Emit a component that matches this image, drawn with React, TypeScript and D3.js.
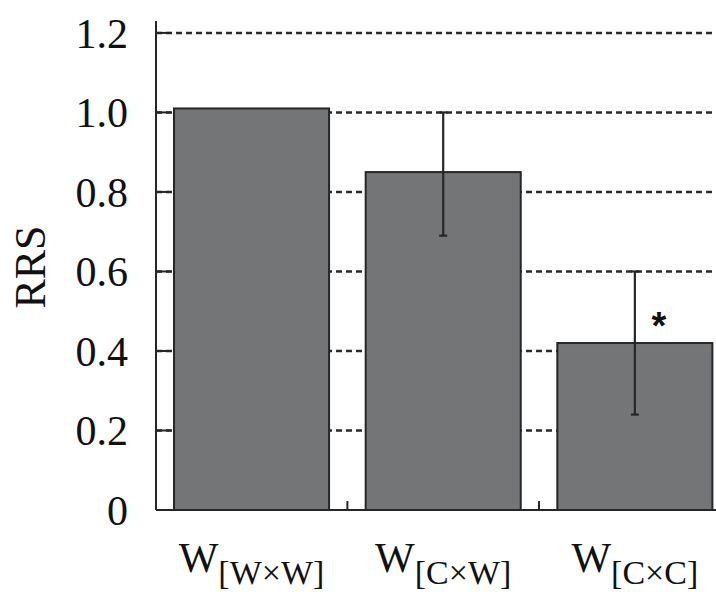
import React from "react";
import * as d3 from "d3";

const categories = ["W×W", "C×W", "C×C"];
const values = [1.01, 0.85, 0.42];
const errLow = [null, 0.69, 0.24];
const errHigh = [null, 1.0, 0.6];
const significant = [false, false, true];
const yTicks = [0, 0.2, 0.4, 0.6, 0.8, 1.0, 1.2];
const yTickLabels = ["0", "0.2", "0.4", "0.6", "0.8", "1.0", "1.2"];
const yLabel = "RRS";

const W = 716;
const H = 592;
const FONT = "'Liberation Serif', 'Times New Roman', serif";

export default function App() {
  const x0 = 156;
  const x = d3
    .scaleBand<string>()
    .domain(categories)
    .range([x0, 730.4])
    .paddingInner(0.191)
    .paddingOuter(0.094);
  const y = d3.scaleLinear().domain([0, 1.23]).range([510, 21]);
  const bw = x.bandwidth();
  const gap = x.step() - bw;
  const ink = "#262626";

  return (
    <svg
      width={W}
      height={H}
      style={{ position: "absolute", left: 0, top: 0, background: "#fff" }}
      fontFamily={FONT}
    >
      {/* grid lines */}
      {yTicks.filter((t) => t > 0).map((t) => (
        <line
          key={"g" + t}
          x1={x0}
          x2={W}
          y1={y(t)}
          y2={y(t)}
          stroke="#2a2a2a"
          strokeWidth={2.5}
          strokeDasharray="6 4"
        />
      ))}
      {/* y tick marks */}
      {yTicks.map((t) => (
        <line key={"t" + t} x1={x0} x2={x0 + 15} y1={y(t)} y2={y(t)} stroke={ink} strokeWidth={2} />
      ))}
      {/* bars */}
      {categories.map((c, i) => (
        <rect
          key={c}
          x={x(c)}
          y={y(values[i])}
          width={bw}
          height={y(0) - y(values[i])}
          fill="#747577"
          stroke={ink}
          strokeWidth={2}
        />
      ))}
      {/* error bars */}
      {categories.map((c, i) => {
        if (errLow[i] == null) return null;
        const cx = (x(c) as number) + bw / 2;
        return (
          <g key={"e" + c} stroke={ink} strokeWidth={2.2}>
            <line x1={cx} x2={cx} y1={y(errHigh[i] as number)} y2={y(errLow[i] as number)} />
            <line x1={cx - 4} x2={cx + 4} y1={y(errHigh[i] as number)} y2={y(errHigh[i] as number)} />
            <line x1={cx - 4} x2={cx + 4} y1={y(errLow[i] as number)} y2={y(errLow[i] as number)} />
          </g>
        );
      })}
      {/* significance */}
      {categories.map((c, i) =>
        significant[i] ? (
          <text
            key={"s" + c}
            x={(x(c) as number) + bw / 2 + 24}
            y={y(errHigh[i] as number) + 68}
            fontSize={38}
            fontWeight="bold"
            textAnchor="middle"
            fill="#111"
            fontFamily="'Liberation Sans', sans-serif"
          >
            *
          </text>
        ) : null
      )}
      {/* axes */}
      <line x1={x0} x2={x0} y1={y(1.23)} y2={y(0)} stroke={ink} strokeWidth={2} />
      <line x1={x0} x2={W} y1={y(0)} y2={y(0)} stroke={ink} strokeWidth={2} />
      {categories.slice(0, -1).map((c) => {
        const tx = (x(c) as number) + bw + gap / 2;
        return <line key={"xt" + c} x1={tx} x2={tx} y1={y(0)} y2={y(0) - 9} stroke={ink} strokeWidth={2} />;
      })}
      {/* y tick labels */}
      {yTicks.map((t, i) => (
        <text
          key={"l" + t}
          x={128}
          y={y(t)}
          dy="0.35em"
          fontSize={42}
          textAnchor="end"
          fill="#111"
        >
          {yTickLabels[i]}
        </text>
      ))}
      {/* y label */}
      <text
        transform={`translate(45, 267) rotate(-90)`}
        fontSize={44}
        textAnchor="middle"
        fill="#111"
      >
        {yLabel}
      </text>
      {/* x labels */}
      {categories.map((c) => (
        <text
          key={"xl" + c}
          x={(x(c) as number) + bw / 2}
          y={572}
          textAnchor="middle"
          fill="#111"
        >
          <tspan fontSize={42}>W</tspan>
          <tspan fontSize={34} dy={12}>{`[${c}]`}</tspan>
        </text>
      ))}
    </svg>
  );
}
